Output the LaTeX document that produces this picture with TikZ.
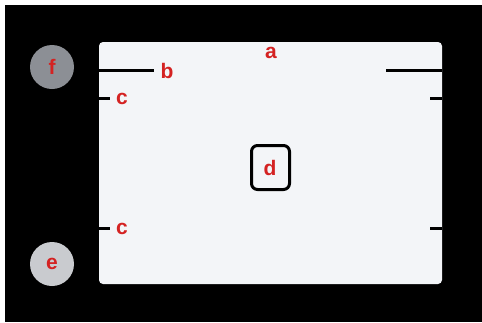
\documentclass[tikz,border=0pt]{standalone}
\usepackage{fontspec}
\setmainfont{Liberation Sans}
\definecolor{lbl}{HTML}{D42222}
\definecolor{panel}{HTML}{F3F5F8}
\definecolor{fgray}{HTML}{8C8F95}
\definecolor{egray}{HTML}{C9CBCF}
\begin{document}
\begin{tikzpicture}[x=1pt,y=-1pt,
  lab/.style={text=lbl,font=\fontsize{21}{21}\selectfont\bfseries,inner sep=0pt},
  tickline/.style={line width=3pt,black},
  disc/.style={circle,minimum size=44pt,inner sep=0pt}]
\useasboundingbox (0,0) rectangle (482,322);
\fill[white] (0,0) rectangle (482,322);
\fill[black] (5,5) rectangle (482,322);
\fill[panel,rounded corners=4pt] (99,42) rectangle (442,284);
% discs
\node[disc,fill=fgray] (f) at (52,67) {};
\node[lab] at (f) {f};
\node[disc,fill=egray] (e) at (52,264) {};
\node[lab] at (e) {e};
% marks
\coordinate (bL) at (99,70); \coordinate (bR) at (154,70);
\draw[tickline] (bL) -- (bR);
\coordinate (rL) at (386,70); \coordinate (rR) at (442,70);
\draw[tickline] (rL) -- (rR);
\coordinate (c1L) at (99,98); \coordinate (c1R) at (110,98);
\draw[tickline] (c1L) -- (c1R);
\coordinate (c2L) at (99,228); \coordinate (c2R) at (110,228);
\draw[tickline] (c2L) -- (c2R);
\coordinate (r1L) at (430,98); \coordinate (r1R) at (442,98);
\draw[tickline] (r1L) -- (r1R);
\coordinate (r2L) at (430,228); \coordinate (r2R) at (442,228);
\draw[tickline] (r2L) -- (r2R);
% centre box
\draw[line width=3pt,rounded corners=6pt] (251.5,145.5) rectangle (289.5,189.5);
% labels
\node[lab] (a) at (271,53) {a};
\node[lab] (b) at (167,71) {b};
\node[lab] (c1) at (122,99) {c};
\node[lab] (c2) at (122,229) {c};
\node[lab] (d) at (270,168) {d};
\end{tikzpicture}
\end{document}
